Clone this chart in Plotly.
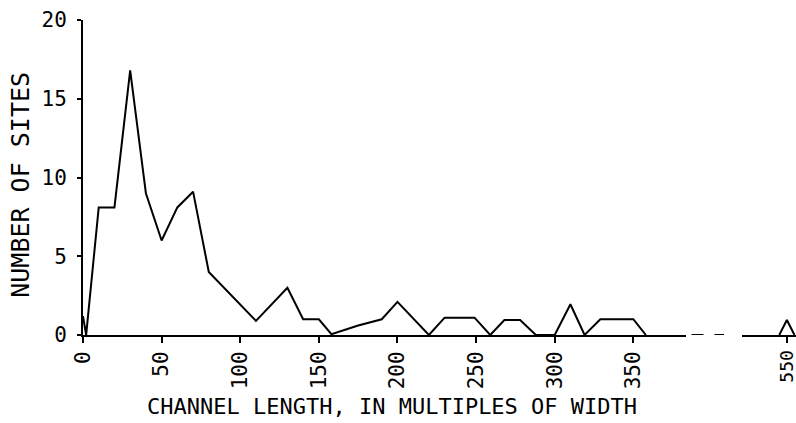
import plotly.graph_objects as go

# Channel length (multiples of width) vs. number of sites
lengths = [0, 2, 10, 20, 30, 40, 50, 60, 70, 80, 110, 130, 140, 150, 158,
           175, 190, 200, 220, 230, 249, 259, 268, 278, 288, 300, 310, 319,
           329, 350, 358]
sites = [1.2, 0, 8.1, 8.1, 16.8, 9.0, 6.0, 8.1, 9.1, 4.0, 0.9, 3.0, 1.0, 1.0,
         0.05, 0.6, 1.0, 2.1, 0, 1.1, 1.1, 0, 0.95, 0.95, 0, 0, 1.95, 0, 1.0,
         1.0, 0]

# Isolated outlier past the axis break
far_lengths = [545, 550, 555]
far_sites = [0, 0.95, 0]

x_ticks_main = [0, 50, 100, 150, 200, 250, 300, 350]
x_ticks_far = [550]
y_ticks = [0, 5, 10, 15, 20]

W, H = 796, 423
ML, MR, MT, MB = 83, 0, 20, 87.5
plot_w = W - ML - MR
plot_h = H - MT - MB


def px_x(p):
    return (p - ML) / plot_w


def px_y(p):
    return (H - MB - p) / plot_h


dom1 = [0, px_x(686)]
dom2 = [px_x(742), 1]

mono = "DejaVu Sans Mono"
line_style = dict(color="black", width=2)

fig = go.Figure()
fig.add_trace(go.Scatter(x=lengths, y=sites, mode="lines", line=line_style,
                         xaxis="x", yaxis="y", cliponaxis=False,
                         showlegend=False))
fig.add_trace(go.Scatter(x=far_lengths, y=far_sites, mode="lines",
                         line=line_style, xaxis="x2", yaxis="y",
                         cliponaxis=False, showlegend=False))

axis_common = dict(showgrid=False, zeroline=False, showline=True,
                   linecolor="black", linewidth=2, ticks="outside",
                   ticklen=6, tickwidth=2, tickcolor="black",
                   tickangle=-90, ticklabeloverflow="allow")

fig.update_layout(
    width=W, height=H,
    margin=dict(l=ML, r=MR, t=MT, b=MB, autoexpand=False),
    paper_bgcolor="white", plot_bgcolor="white",
    xaxis=dict(domain=dom1, range=[0, 383.5], tickvals=x_ticks_main,
               anchor="y", tickfont=dict(family=mono, size=21, color="black"),
               **axis_common),
    xaxis2=dict(domain=dom2, range=[520.5, 556], tickvals=x_ticks_far,
                anchor="y", tickfont=dict(family=mono, size=18, color="black"),
                **axis_common),
    yaxis=dict(range=[0, 20], tickvals=y_ticks, showgrid=False,
               zeroline=False, showline=True, linecolor="black", linewidth=2,
               ticks="outside", ticklen=4, tickwidth=2, tickcolor="black",
               ticklabelstandoff=6,
               tickfont=dict(family=mono, size=21, color="black")),
    shapes=[dict(type="line", xref="paper", yref="y",
                 x0=px_x(691.5), x1=px_x(724), y0=0, y1=0,
                 line=dict(color="black", width=2, dash="12px,11px"))],
    annotations=[
        dict(text="CHANNEL LENGTH, IN MULTIPLES OF WIDTH", xref="paper",
             yref="paper", x=px_x(391.5), y=px_y(407), xanchor="center",
             yanchor="middle", showarrow=False,
             font=dict(family=mono, size=22, color="black")),
        dict(text="NUMBER OF SITES", xref="paper", yref="paper",
             x=px_x(21), y=px_y(185), xanchor="center", yanchor="middle",
             textangle=-90, showarrow=False,
             font=dict(family=mono, size=25, color="black")),
    ],
)

fig.write_html("out.html")
